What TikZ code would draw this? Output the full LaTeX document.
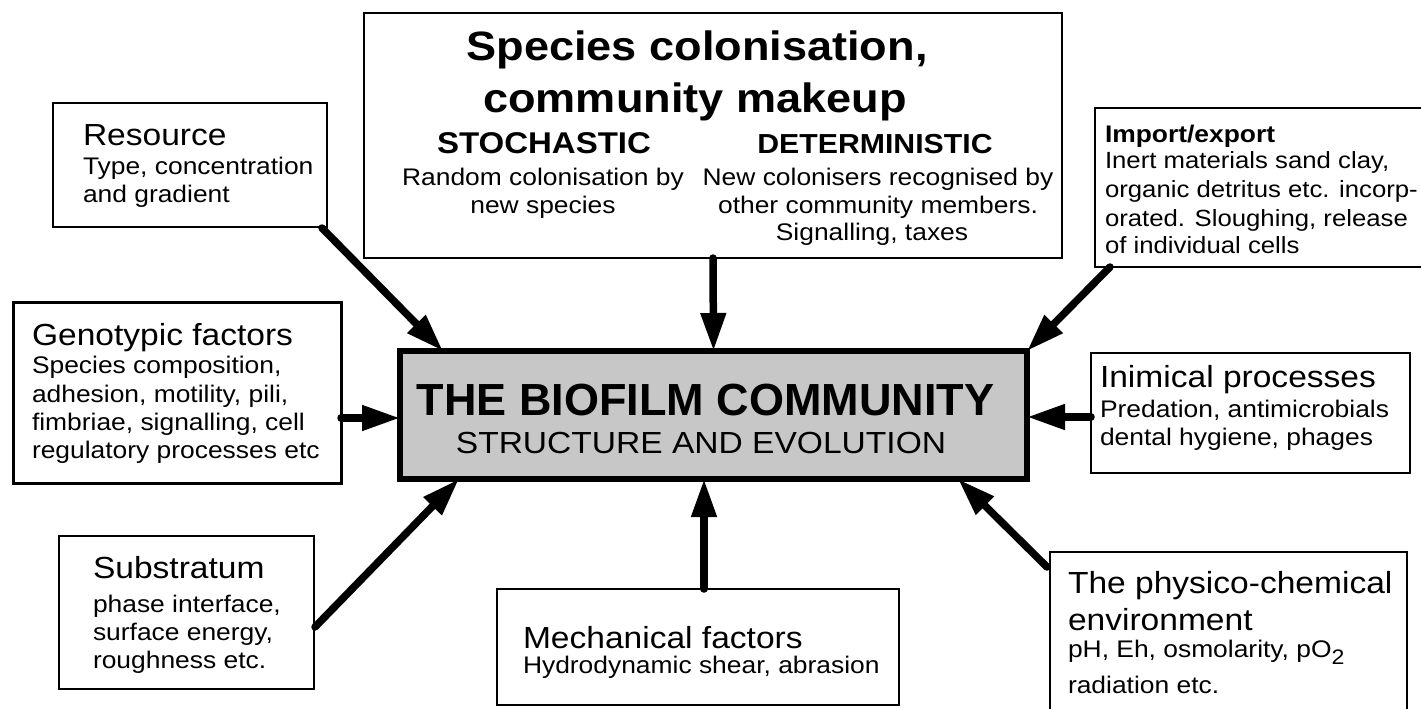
\documentclass[tikz,border=0pt]{standalone}
\usepackage{fontspec}
\setmainfont{Liberation Sans}[FakeStretch=1.1]
\newfontfamily\plainsans{Liberation Sans}
\usetikzlibrary{arrows.meta,calc}
\newcommand{\fsz}[1]{\fontsize{#1}{#1}\selectfont}
\begin{document}
\begin{tikzpicture}[x=1pt,y=-1pt,
  box/.style={draw, line width=2pt, inner sep=0pt, outer sep=0pt, fill=white},
  txt/.style={anchor=base west, inner sep=0pt, outer sep=0pt},
  ctx/.style={anchor=base, inner sep=0pt, outer sep=0pt},
  arr/.style={line width=7.5pt, line cap=round, -{Triangle[length=38pt,width=24pt]}},
  hd/.style={txt, font={\fsz{30.5}}},
  bd/.style={txt, font={\fsz{24}}},
  bds/.style={txt, font={\fsz{23.4}}}]
\useasboundingbox (0,0) rectangle (1421,709);
\clip (0,0) rectangle (1421,709);
\fill[white] (0,0) rectangle (1421,709);

% boxes
\node[box, minimum width=274pt, minimum height=124pt] (res) at (190,165) {};
\node[box, line width=3pt, minimum width=328pt, minimum height=181pt] (geno) at (177,392.5) {};
\node[box, minimum width=255pt, minimum height=153pt] (sub) at (186.5,612.5) {};
\node[box, minimum width=402pt, minimum height=116pt] (mech) at (698,647) {};
\node[box, minimum width=357pt, minimum height=178pt] (phys) at (1228.5,641) {};
\node[box, minimum width=319pt, minimum height=120pt] (inim) at (1250.5,413) {};
\node[box, minimum width=345pt, minimum height=159pt] (imp) at (1267.5,187.5) {};
\node[box, minimum width=698pt, minimum height=245pt] (spec) at (713,135.5) {};
\node[draw, line width=6pt, fill=black!22, inner sep=0pt, outer sep=0pt,
      minimum width=627pt, minimum height=128pt] (ctr) at (713.5,415) {};

% arrows
\draw[arr] ($(res.south east)+(-5,1)$) -- ($(ctr.north west)+(43,0)$);
\draw[arr] (spec.south) -- (ctr.north);
\draw[arr] ($(imp.south west)+(15,0)$) -- (ctr.north east);
\draw[arr] ($(geno.east)+(0,25.5)$) coordinate (g1) -- (g1 -| ctr.west);
\draw[arr] ($(inim.west)+(0,4)$) coordinate (i1) -- (i1 -| ctr.east);
\draw[arr] ($(sub.east)+(1,14.5)$) -- ($(ctr.south west)+(59,0)$);
\draw[arr] ($(mech.north)+(6,0)$) coordinate (m1) -- (m1 |- ctr.south);
\draw[arr] ($(phys.north west)+(-3,15)$) -- ($(ctr.south east)+(-69,0)$);

% central text
\node[ctx, font={\plainsans\bfseries\fsz{45}}] (t1) at (705.5,415) {THE BIOFILM COMMUNITY};
\node[ctx, font={\fsz{30.5}}] (t2) at (701,453) {STRUCTURE AND EVOLUTION};

% species
\node[ctx, font={\bfseries\fsz{41}}] (s1) at (697,61) {Species colonisation,};
\node[ctx, font={\bfseries\fsz{41}}] (s2) at (695,112) {community makeup};
\node[ctx, font={\bfseries\fsz{30}}] (s3) at (544,153) {STOCHASTIC};
\node[ctx, font={\bfseries\fsz{27.5}}] (s4) at (875,153) {DETERMINISTIC};
\node[ctx, font={\fsz{24}}] (s5) at (543,185) {Random colonisation by};
\node[ctx, font={\fsz{24}}] (s6) at (543,213) {new species};
\node[ctx, font={\fsz{24}}] (s7) at (878,185) {New colonisers recognised by};
\node[ctx, font={\fsz{24}}] (s8) at (878,213) {other community members.};
\node[ctx, font={\fsz{24}}] (s9) at (872,240) {Signalling, taxes};

% resource
\node[hd] (r1) at (83,145) {Resource};
\node[bd] (r2) at (83,174) {Type, concentration};
\node[bd] (r3) at (83,202) {and gradient};

% genotypic
\node[hd] (g2) at (32,345) {Genotypic factors};
\node[bd] (g3) at (32,373) {Species composition,};
\node[bd] (g4) at (32,402) {adhesion, motility, pili,};
\node[bd] (g5) at (32,430) {fimbriae, signalling, cell};
\node[bd] (g6) at (32,458) {regulatory processes etc};

% substratum
\node[hd] (u1) at (93,578) {Substratum};
\node[bd] (u2) at (93,612) {phase interface,};
\node[bd] (u3) at (93,640) {surface energy,};
\node[bd] (u4) at (93,668) {roughness etc.};

% mechanical
\node[hd] (m2) at (523,648) {Mechanical factors};
\node[bd] (m3) at (523,673) {Hydrodynamic shear, abrasion};

% import/export
\node[txt, font={\bfseries\fsz{24}}] (e1) at (1105,142) {Import/export};
\node[bds] (e2) at (1105,168) {Inert materials sand clay,};
\node[bds] (e3) at (1105,197) {organic detritus etc. incorp-};
\node[bds] (e4) at (1105,226) {orated. Sloughing, release};
\node[bds] (e5) at (1105,253) {of individual cells};

% inimical
\node[hd] (n1) at (1100,387) {Inimical processes};
\node[bd] (n2) at (1100,417) {Predation, antimicrobials};
\node[bd] (n3) at (1100,445) {dental hygiene, phages};

% physico-chemical
\node[hd] (p1) at (1068,593) {The physico-chemical};
\node[hd] (p2) at (1068,630) {environment};
\node[bd] (p3) at (1068,657) {pH, Eh, osmolarity, pO\raisebox{-7pt}{\fsz{21}2}};
\node[bd] (p4) at (1068,693) {radiation etc.};
\end{tikzpicture}
\end{document}
